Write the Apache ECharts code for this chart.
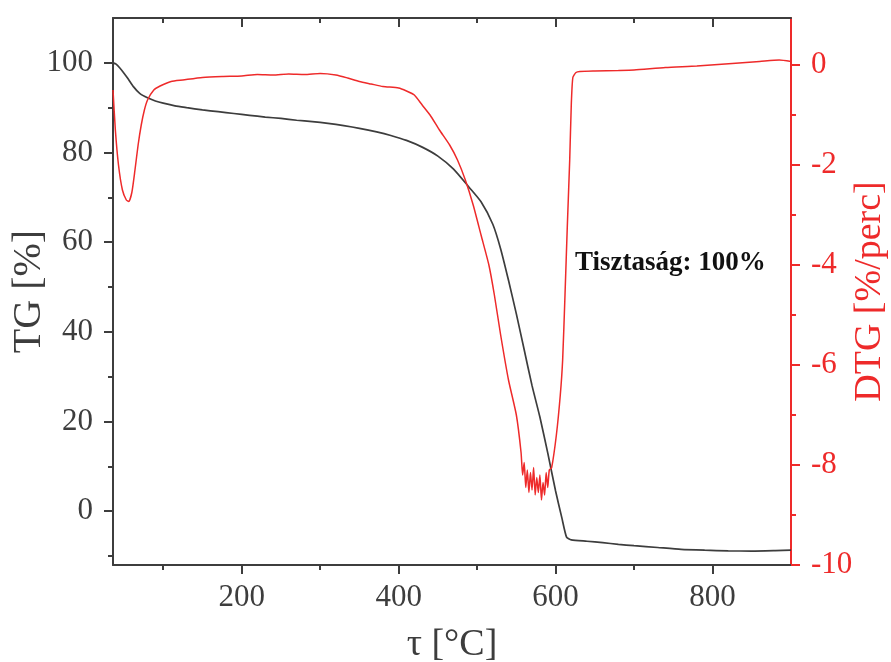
<!DOCTYPE html>
<html>
<head>
<meta charset="utf-8">
<script src="https://cdn.jsdelivr.net/npm/echarts@6/dist/echarts.min.js"></script>
<style>
html,body{margin:0;padding:0;background:#fff;}
#chart{width:891px;height:662px;}
</style>
</head>
<body>
<div id="chart"></div>
<script>
// ---- data ----
const tgTemp = [36,40,45,50,55,62,70,80,90,100,115,130,150,170,190,210,230,250,270,290,310,330,350,372,390,410,430,450,470,490,505,520,530,540,550,560,570,580,590,600,608,614,620,640,660,680,700,730,760,790,820,850,880,900];
const tgValues = [100,99.7,98.8,97.7,96.5,94.7,93.2,92.2,91.5,91.0,90.4,90.0,89.5,89.1,88.7,88.3,87.9,87.6,87.2,86.9,86.5,86.0,85.4,84.6,83.8,82.7,81.2,79.2,76.3,72.2,69.0,64.0,58.5,51.5,44,36,28,21,13,4.5,-1.5,-5.8,-6.4,-6.7,-7.0,-7.4,-7.7,-8.1,-8.5,-8.7,-8.85,-8.9,-8.8,-8.7];

const dtgTemp = [36,39,43,48,53,56,60,64,68,72,76,80,88,96,110,125,150,175,200,220,240,260,280,300,320,335,350,365,380,400,410,420,430,440,452,465,475,485,495,505,515,522,530,540,550,556,558,560,562,564,566,568,570,572,574,576,578,580,582,584,586,588,590,592,595,601,606,609,612,615,618,620,622,626,631,650,680,700,740,780,825,860,885,900];
const dtgValues = [-0.5,-1.3,-2.0,-2.5,-2.7,-2.73,-2.55,-2.1,-1.6,-1.2,-0.9,-0.7,-0.5,-0.42,-0.33,-0.3,-0.25,-0.23,-0.22,-0.19,-0.2,-0.18,-0.19,-0.17,-0.2,-0.26,-0.33,-0.38,-0.43,-0.46,-0.52,-0.6,-0.8,-1.0,-1.3,-1.6,-1.9,-2.3,-2.8,-3.4,-4.0,-4.6,-5.4,-6.3,-7.0,-7.75,-8.2,-7.95,-8.45,-8.1,-8.55,-8.15,-8.5,-8.05,-8.6,-8.25,-8.55,-8.2,-8.7,-8.35,-8.6,-8.15,-8.45,-8.1,-8.05,-7.4,-6.6,-5.9,-4.6,-3.2,-1.9,-0.8,-0.25,-0.15,-0.13,-0.12,-0.11,-0.1,-0.05,-0.02,0.03,0.07,0.1,0.07];

const xTicks = [200,400,600,800];
const xMinorTicks = [100,300,500,700];
const tgTicks = [0,20,40,60,80,100];
const tgMinorTicks = [-10,10,30,50,70,90];
const dtgTicks = [-10,-8,-6,-4,-2,0];
const dtgMinorTicks = [-9,-7,-5,-3,-1];

const note = 'Tisztaság: 100%';

// ---- chart ----
const X_MIN = 36, X_MAX = 900;
const TG_MIN = -12, TG_MAX = 110;
const DTG_MIN = -10, DTG_MAX = 0.94;
const FONT = '"Liberation Serif", "DejaVu Serif", serif';
const DARK = '#3d3d3d';
const RED = '#ee2a2a';

const tgData = tgTemp.map((t, i) => [t, tgValues[i]]);
const dtgData = dtgTemp.map((t, i) => [t, dtgValues[i]]);

function xAxisDef(extra) {
  return Object.assign({
    type: 'value', min: X_MIN, max: X_MAX,
    axisLine: {show: false, onZero: false},
    splitLine: {show: false},
    axisLabel: {show: false},
    axisTick: {show: false}
  }, extra);
}
function yAxisDef(extra) {
  return Object.assign({
    type: 'value',
    axisLine: {show: false, onZero: false},
    splitLine: {show: false},
    axisLabel: {show: false},
    axisTick: {show: false}
  }, extra);
}

const chart = echarts.init(document.getElementById('chart'), null, {renderer: 'canvas'});
chart.setOption({
  animation: false,
  backgroundColor: '#fff',
  grid: {left: 113, right: 100, top: 18, bottom: 97, containLabel: false, outerBoundsMode: 'none'},
  xAxis: [
    xAxisDef({
      position: 'bottom',
      name: 'τ [°C]', nameLocation: 'middle', nameGap: 61, nameMoveOverlap: false,
      nameTextStyle: {fontFamily: FONT, fontSize: 38, color: DARK},
      axisLine: {show: true, onZero: false, lineStyle: {color: DARK, width: 2}},
      axisTick: {show: true, inside: false, length: 9, customValues: xTicks, lineStyle: {color: DARK, width: 2}},
      axisLabel: {show: true, customValues: xTicks, margin: 17, fontFamily: FONT, fontSize: 31, color: DARK}
    }),
    xAxisDef({
      position: 'bottom',
      axisTick: {show: true, inside: false, length: 5, customValues: xMinorTicks, lineStyle: {color: DARK, width: 2}}
    }),
    xAxisDef({
      position: 'top',
      axisLine: {show: true, onZero: false, lineStyle: {color: DARK, width: 2}},
      axisTick: {show: true, inside: true, length: 9, customValues: xTicks, lineStyle: {color: DARK, width: 2}}
    }),
    xAxisDef({
      position: 'top',
      axisTick: {show: true, inside: true, length: 5, customValues: xMinorTicks, lineStyle: {color: DARK, width: 2}}
    })
  ],
  yAxis: [
    yAxisDef({
      position: 'left', min: TG_MIN, max: TG_MAX,
      name: 'TG [%]', nameLocation: 'middle', nameGap: 64, nameMoveOverlap: false,
      nameTextStyle: {fontFamily: FONT, fontSize: 40, color: DARK},
      axisLine: {show: true, onZero: false, lineStyle: {color: DARK, width: 2}},
      axisTick: {show: true, inside: false, length: 9, customValues: tgTicks, lineStyle: {color: DARK, width: 2}},
      axisLabel: {show: true, customValues: tgTicks, margin: 20, fontFamily: FONT, fontSize: 31, color: DARK}
    }),
    yAxisDef({
      position: 'right', min: DTG_MIN, max: DTG_MAX,
      name: 'DTG [%/perc]', nameLocation: 'middle', nameGap: 60, nameRotate: 90, nameMoveOverlap: false,
      nameTextStyle: {fontFamily: FONT, fontSize: 38, color: RED},
      axisLine: {show: true, onZero: false, lineStyle: {color: RED, width: 2}},
      axisTick: {show: true, inside: false, length: 9, customValues: dtgTicks, lineStyle: {color: RED, width: 2}},
      axisLabel: {show: true, customValues: dtgTicks, margin: 20, fontFamily: FONT, fontSize: 31, color: RED}
    }),
    yAxisDef({
      position: 'left', min: TG_MIN, max: TG_MAX,
      axisTick: {show: true, inside: false, length: 5, customValues: tgMinorTicks, lineStyle: {color: DARK, width: 2}}
    }),
    yAxisDef({
      position: 'right', min: DTG_MIN, max: DTG_MAX,
      axisTick: {show: true, inside: false, length: 5, customValues: dtgMinorTicks, lineStyle: {color: RED, width: 2}}
    })
  ],
  series: [
    {
      name: 'TG', type: 'line', xAxisIndex: 0, yAxisIndex: 0,
      data: tgData, showSymbol: false, smooth: 0.2,
      lineStyle: {color: DARK, width: 1.7}
    },
    {
      name: 'DTG', type: 'line', xAxisIndex: 0, yAxisIndex: 1,
      data: dtgData, showSymbol: false, smooth: 0.2,
      lineStyle: {color: RED, width: 1.5}
    }
  ],
  graphic: [
    {
      type: 'text', left: 575, top: 250,
      style: {text: note, fontFamily: FONT, fontSize: 27, fontWeight: 'bold', fill: '#111'}
    }
  ]
});
</script>
</body>
</html>
